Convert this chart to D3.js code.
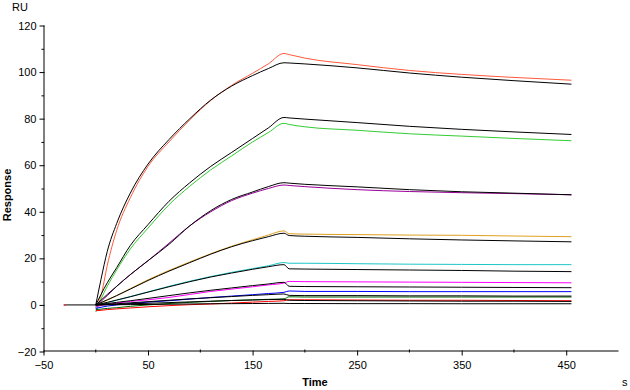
<!DOCTYPE html>
<html>
<head>
<meta charset="utf-8">
<script src="https://cdn.jsdelivr.net/npm/d3@7"></script>
<style>
  body { margin: 0; background: #fff; }
  svg { display: block; font-family: 'Liberation Sans', Arial, sans-serif; }
</style>
</head>
<body>
<svg id="chart" width="630" height="390"></svg>
<script>
// sample times (s), association 0-180, dissociation 180-455
const times = [0, 5, 11, 20, 33, 50, 70, 90, 110, 130, 150, 165, 180, 185, 200, 250, 300, 350, 400, 455];

// measured curves (coloured)
const red1 = [-1, 4, 17, 32, 46, 59.5, 70, 79.5, 87.8, 94.3, 99.5, 103.5, 108, 107.5, 106, 103.2, 100.7, 99, 97.7, 96.5];
const green = [-3, 2.5, 8, 15, 24, 33, 43, 51, 58, 64, 70, 74, 78, 77.5, 76.5, 75, 73.5, 72.5, 71.5, 70.5];
const purple = [-1, 1.5, 4, 8, 13, 19, 26.5, 34, 40, 44.8, 48, 50, 51.5, 51.3, 50.8, 49.5, 48.7, 48.2, 47.8, 47.3];
const orange = [-1, 0.8, 2, 4, 7, 10.8, 14.8, 18.5, 22, 25.2, 28, 30, 31.8, 30.6, 30.4, 30.2, 30, 29.9, 29.6, 29.3];
const cyan = [-1, 0.3, 1, 2, 3.6, 5.6, 8, 10.2, 12.2, 14, 15.6, 16.8, 18.2, 17.9, 17.9, 17.7, 17.5, 17.4, 17.3, 17.3];
const magenta = [-1, -0.2, 0.2, 0.8, 1.5, 2.2, 3.2, 4.5, 5.8, 6.8, 7.8, 8.6, 9.4, 10.1, 10, 9.9, 9.8, 9.7, 9.6, 9.5];
const blue = [-1.5, -1, -0.5, 0, 0.6, 1.2, 1.8, 2.5, 3.2, 3.8, 4.4, 4.9, 5.4, 6, 5.8, 5.8, 5.7, 5.7, 5.7, 5.7];
const darkGreen = [-2, -1.8, -1.5, -1.2, -0.6, 0, 0.6, 1.1, 1.5, 1.9, 2.2, 2.4, 2.6, 3.5, 3.4, 3.4, 3.4, 3.4, 3.4, 3.4];
const red2 = [-2.5, -2.3, -2, -1.7, -1.3, -0.8, -0.3, 0.1, 0.4, 0.8, 1.2, 1.5, 1.8, 2.2, 2.2, 2.1, 2, 2, 1.9, 1.8];

// fitted curves (black)
const fit1 = [0, 11, 23, 35, 48, 60.5, 71, 80, 88, 94, 98.5, 101.5, 104, 103.9, 103.5, 101.8, 99.6, 97.8, 96.3, 94.8];
const fit2 = [0, 4.5, 9.5, 16, 25.5, 34.5, 44.5, 52.5, 59.5, 65.5, 71.5, 76, 80.5, 80.3, 79.8, 78.3, 76.7, 75.4, 74.3, 73.2];
const fit3 = [0, 2, 4.5, 8, 13, 19, 26, 34, 40.5, 45.3, 48.5, 50.8, 52.5, 52.3, 51.8, 50.7, 49.5, 48.6, 48, 47.3];
const fit4 = [0, 1, 2.2, 4, 6.8, 10.5, 14.5, 18.2, 21.8, 25, 27.6, 29.3, 30.8, 29.8, 29.5, 29, 28.4, 27.9, 27.5, 27.1];
const fit5 = [0, 0.5, 1.1, 2.1, 3.5, 5.5, 7.8, 10, 12, 13.7, 15.3, 16.4, 17.3, 15.5, 15.4, 15.2, 15, 14.8, 14.5, 14.3];
const fit6 = [0, 0.3, 0.6, 1.1, 1.8, 2.8, 4, 5.2, 6.3, 7.3, 8.3, 9, 9.7, 8, 7.9, 7.8, 7.7, 7.6, 7.5, 7.4];
const fit7 = [0, 0.1, 0.3, 0.5, 0.9, 1.4, 2, 2.6, 3.1, 3.6, 4.1, 4.4, 4.7, 4.1, 4, 4, 3.9, 3.9, 3.8, 3.8];
const fit8 = [0, 0.1, 0.15, 0.3, 0.5, 0.7, 1, 1.3, 1.6, 1.9, 2.1, 2.3, 2.4, 2, 1.9, 1.8, 1.7, 1.6, 1.6, 1.5];
const fit9 = [0, 0, 0.05, 0.1, 0.15, 0.2, 0.3, 0.4, 0.5, 0.55, 0.6, 0.65, 0.7, 0.6, 0.6, 0.55, 0.55, 0.5, 0.5, 0.5];

// baseline before injection
const baseTimes = [-30, 0];
const baseValues = [0, 0];

const measured = [
  { values: red1, color: '#ff5a3c' },
  { values: green, color: '#33cc33' },
  { values: purple, color: '#990099' },
  { values: orange, color: '#e0a020' },
  { values: cyan, color: '#1cc6c6' },
  { values: magenta, color: '#ff00ff' },
  { values: blue, color: '#0000ff' },
  { values: darkGreen, color: '#006400' },
  { values: red2, color: '#ff0000' }
];
const fits = [fit1, fit2, fit3, fit4, fit5, fit6, fit7, fit8, fit9];

const yTicks = [-20, 0, 20, 40, 60, 80, 100, 120];
const yMinor = [-10, 10, 30, 50, 70, 90, 110];
const xTicks = [-50, 50, 150, 250, 350, 450];
const xMinor = [0, 100, 200, 300, 400];

const svg = d3.select('#chart');
const x = d3.scaleLinear().domain([-50, 500]).range([43.5, 618.5]);
const y = d3.scaleLinear().domain([-20, 120]).range([351.5, 25.5]);

const line = d3.line()
  .x((d) => x(d[0]))
  .y((d) => y(d[1]))
  .curve(d3.curveMonotoneX);

// y axis
const yAxis = svg.append('g')
  .attr('transform', `translate(${x(-50)},0)`)
  .call(d3.axisLeft(y).tickValues(yTicks).tickSize(4).tickPadding(3));
yAxis.select('.domain').attr('d', `M0.5,${y(120)}V${y(-20)}`).attr('stroke', '#000');
yAxis.selectAll('.tick line').attr('x1', 1).attr('x2', -4).attr('stroke', '#000');
yAxis.selectAll('.tick text')
  .attr('font-size', 11).attr('fill', '#000')
  .attr('font-family', "'Liberation Sans', Arial, sans-serif")
  .attr('x', -7);
yAxis.selectAll('.minor').data(yMinor).enter()
  .append('line')
  .attr('class', 'minor')
  .attr('x1', -2).attr('x2', 0.5)
  .attr('y1', (d) => y(d) + 0.5).attr('y2', (d) => y(d) + 0.5)
  .attr('stroke', '#000');

// x axis
const xAxis = svg.append('g')
  .attr('transform', `translate(0,${y(-20)})`)
  .call(d3.axisBottom(x).tickValues(xTicks).tickSize(4).tickPadding(6));
xAxis.select('.domain').attr('d', `M${x(-50)},-0.5H${x(500)}`).attr('stroke', '#000');
xAxis.selectAll('.tick line').attr('y1', -1).attr('y2', 4).attr('stroke', '#000');
xAxis.selectAll('.tick text')
  .attr('font-size', 11).attr('fill', '#000')
  .attr('font-family', "'Liberation Sans', Arial, sans-serif");
xAxis.selectAll('.minor').data(xMinor).enter()
  .append('line')
  .attr('class', 'minor')
  .attr('x1', (d) => x(d)).attr('x2', (d) => x(d))
  .attr('y1', -2).attr('y2', 1)
  .attr('stroke', '#000');

// axis titles
svg.append('text').attr('x', 12).attr('y', 11)
  .attr('font-size', 11).text('RU');
svg.append('text')
  .attr('transform', 'translate(11,195) rotate(-90)')
  .attr('text-anchor', 'middle')
  .attr('font-size', 11).attr('font-weight', 'bold')
  .text('Response');
svg.append('text').attr('x', 315).attr('y', 386)
  .attr('text-anchor', 'middle')
  .attr('font-size', 11).attr('font-weight', 'bold')
  .text('Time');
svg.append('text').attr('x', 622).attr('y', 386)
  .attr('font-size', 11).text('s');

// curves
const plot = svg.append('g');
plot.append('path')
  .attr('d', line(baseTimes.map((t, i) => [t, baseValues[i]])))
  .attr('fill', 'none').attr('stroke', '#000').attr('stroke-width', 1);
plot.append('circle')
  .attr('cx', x(baseTimes[0])).attr('cy', y(baseValues[0]))
  .attr('r', 1).attr('fill', '#ff3030');

measured.forEach((s) => {
  plot.append('path')
    .attr('d', line(times.map((t, i) => [t, s.values[i]])))
    .attr('fill', 'none')
    .attr('stroke', s.color)
    .attr('stroke-width', 1);
});

fits.forEach((f) => {
  plot.append('path')
    .attr('d', line(times.map((t, i) => [t, f[i]])))
    .attr('fill', 'none')
    .attr('stroke', '#000')
    .attr('stroke-width', 1);
});
</script>
</body>
</html>
